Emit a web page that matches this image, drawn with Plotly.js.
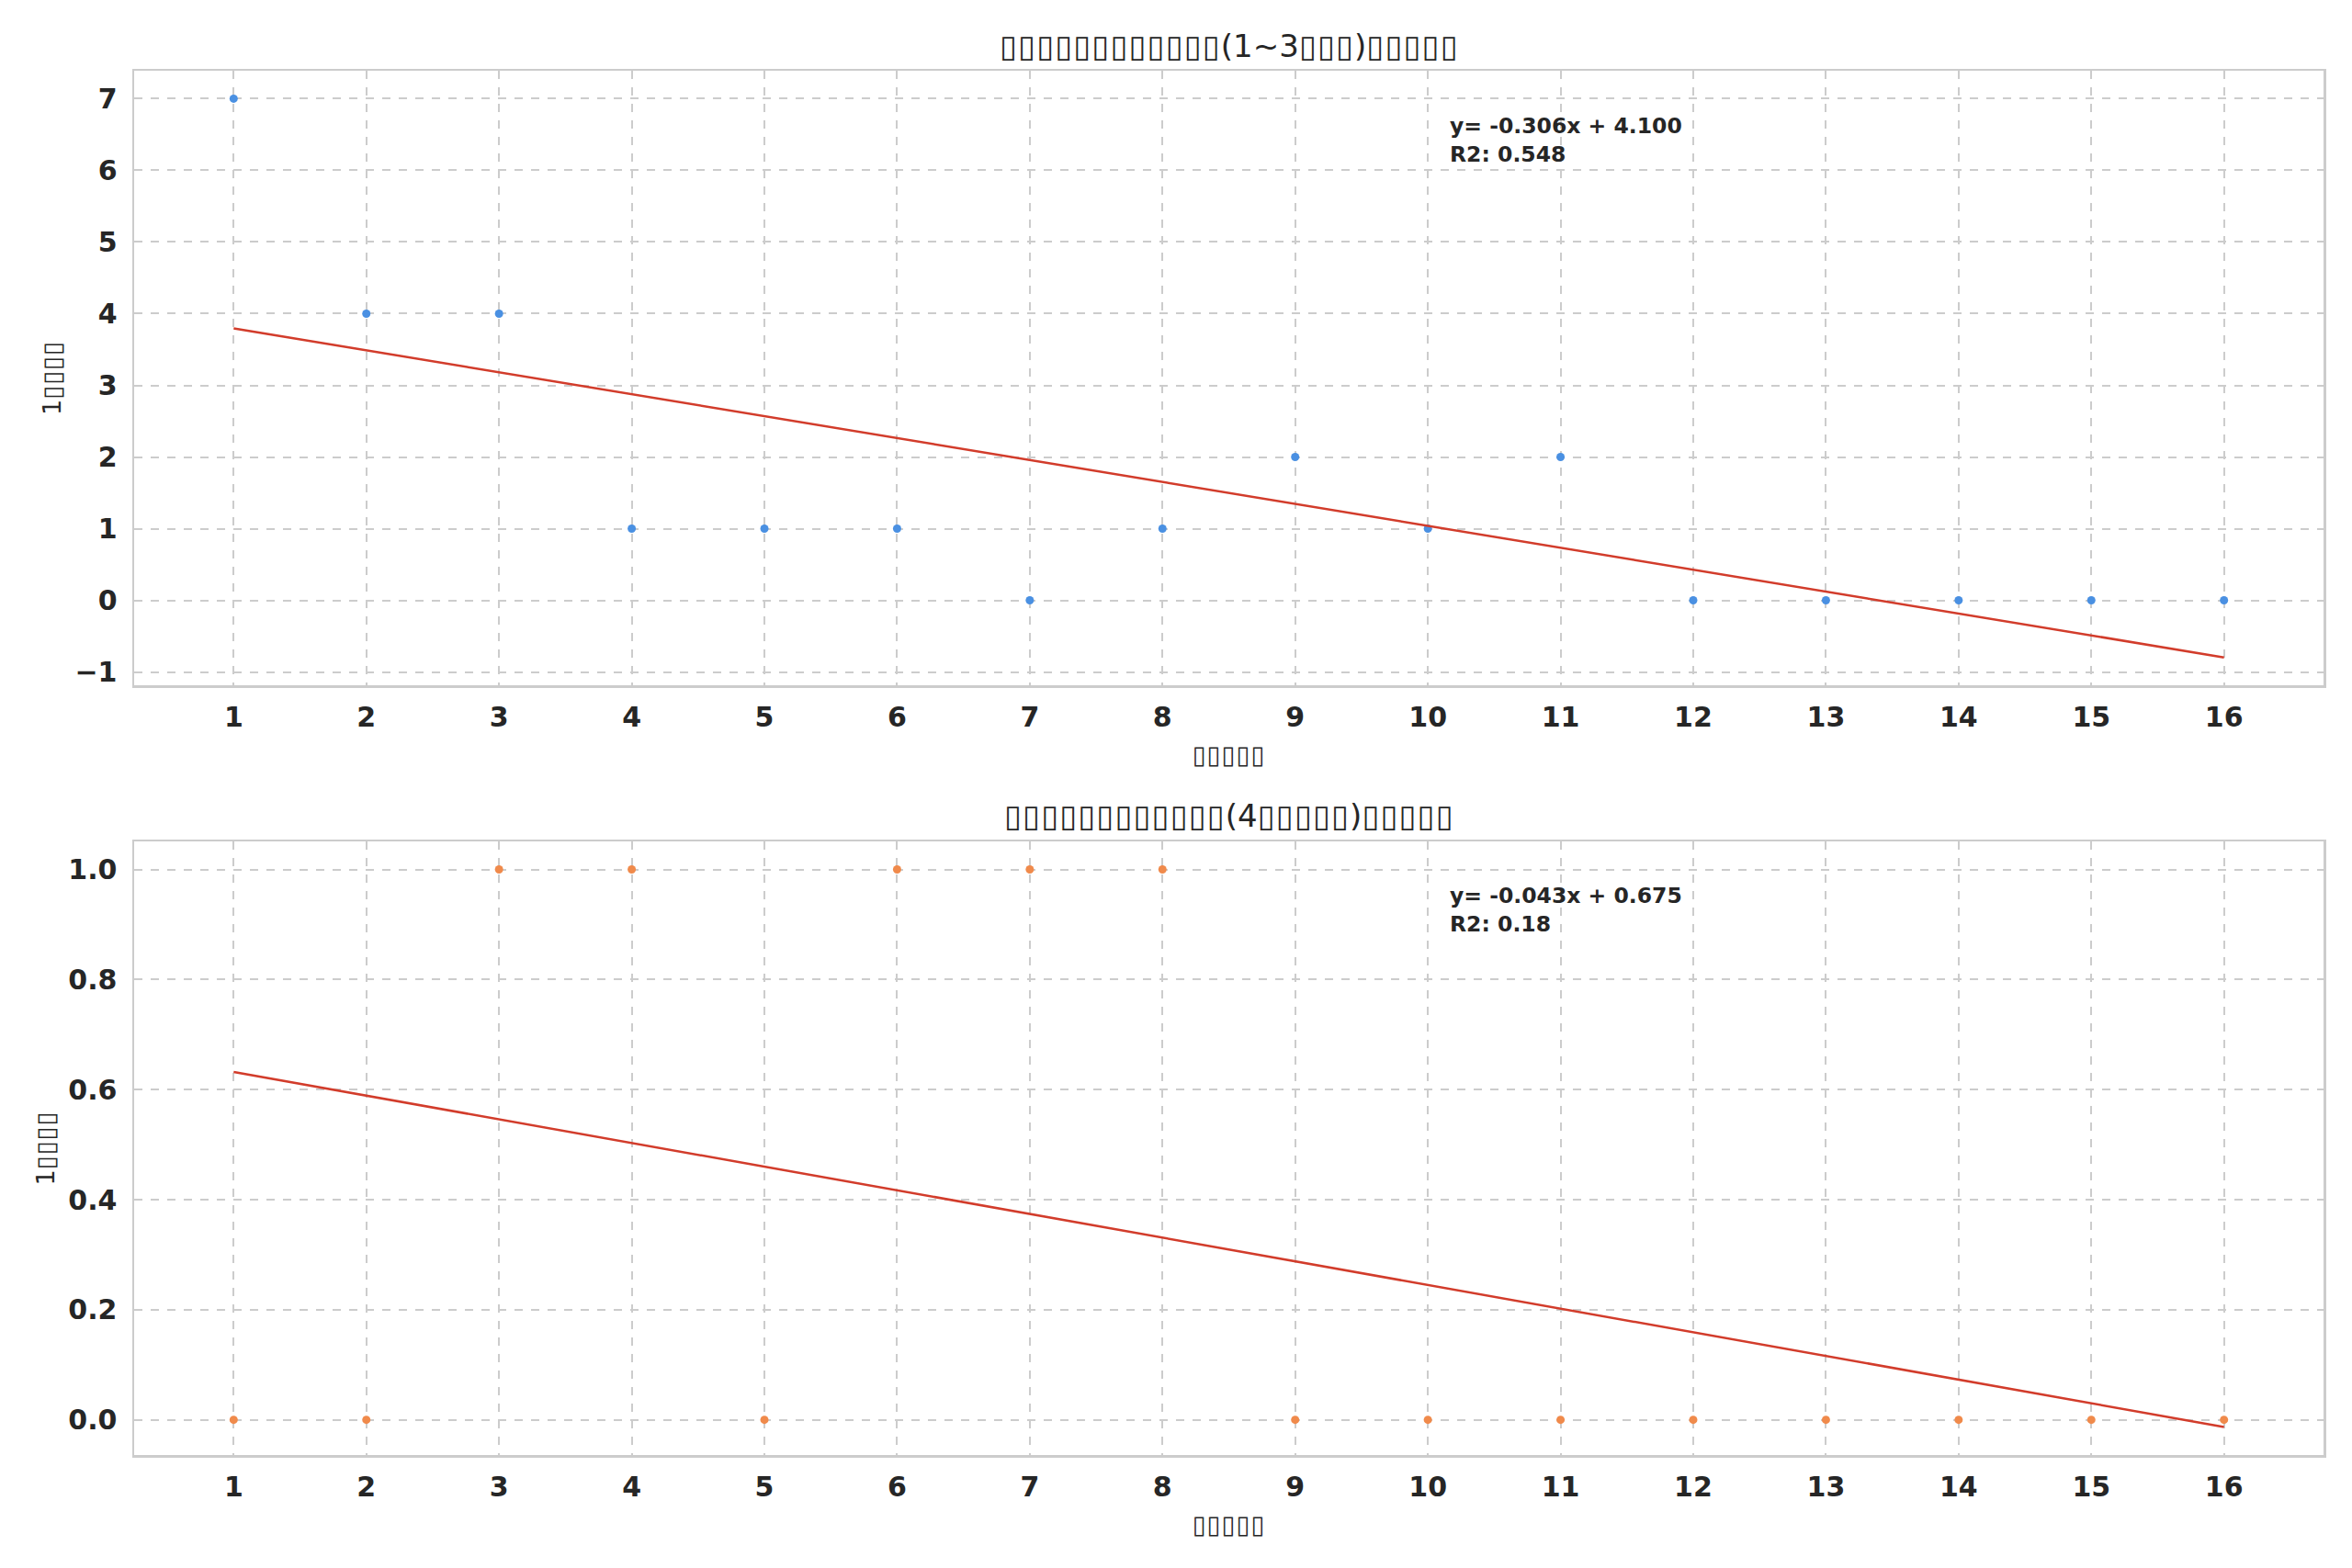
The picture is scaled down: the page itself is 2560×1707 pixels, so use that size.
<!DOCTYPE html>
<html>
<head>
<meta charset="utf-8">
<script src="https://cdn.plot.ly/plotly-3.0.1.min.js"></script>
<style>
  html, body { margin: 0; padding: 0; background: #fff; }
  #chart { width: 2560px; height: 1707px; }
</style>
</head>
<body>
<div id="chart"></div>
<script>
// x positions shared by both panels
const xValues = [1, 2, 3, 4, 5, 6, 7, 8, 9, 10, 11, 12, 13, 14, 15, 16];

// top panel: counts
const topValues = [7, 4, 4, 1, 1, 1, 0, 1, 2, 1, 2, 0, 0, 0, 0, 0];
const topTrendX = [1, 16];
const topTrendY = [3.794, -0.796];
const topEquation = "y= -0.306x + 4.100";
const topR2 = "R2: 0.548";

// bottom panel
const bottomValues = [0, 0, 1, 1, 0, 1, 1, 1, 0, 0, 0, 0, 0, 0, 0, 0];
const bottomTrendX = [1, 16];
const bottomTrendY = [0.632, -0.013];
const bottomEquation = "y= -0.043x + 0.675";
const bottomR2 = "R2: 0.18";

const yTicksTop = [-1, 0, 1, 2, 3, 4, 5, 6, 7];
const yTicksBottom = [0, 0.2, 0.4, 0.6, 0.8, 1.0];

// the source renders its CJK text as empty boxes
function boxes(n) {
  return '<span style="letter-spacing:0.04em">' + "\u25AF".repeat(n) + "</span>";
}
const topTitle = boxes(12) + "(1~3" + boxes(3) + ")" + boxes(5);
const bottomTitle = boxes(12) + "(4" + boxes(5) + ")" + boxes(5);
const xLabel = boxes(5);
const yLabel = "1" + boxes(4);

const W = 2560, H = 1707;
const M = { l: 146, r: 31, t: 77, b: 123 };
const plotH = H - M.t - M.b;
// pixel row -> paper y
const py = (p) => (H - M.b - p) / plotH;

const textColor = "#262626";
const gridColor = "#cccccc";
const blue = "#4a90e2";
const orange = "#f08a4b";
const red = "#d23c2b";

function xAxis(anchor) {
  return {
    anchor: anchor,
    range: [0.25, 16.75],
    tickvals: xValues,
    ticktext: xValues.map(String),
    tickfont: { family: "DejaVu Sans", size: 30, weight: "bold", color: textColor },
    ticklabelstandoff: 6,
    showgrid: true,
    gridcolor: gridColor,
    gridwidth: 2,
    griddash: "dash",
    zeroline: false,
    showline: true,
    mirror: true,
    linecolor: gridColor,
    linewidth: 2.5,
    title: { text: xLabel, font: { family: "DejaVu Sans", size: 27, color: textColor }, standoff: 16 }
  };
}

function yAxis(anchor, domain, range, ticks, fmt) {
  return {
    anchor: anchor,
    domain: domain,
    range: range,
    tickvals: ticks,
    tickformat: fmt,
    tickfont: { family: "DejaVu Sans", size: 30, weight: "bold", color: textColor },
    ticklabelstandoff: 10,
    showgrid: true,
    gridcolor: gridColor,
    gridwidth: 2,
    griddash: "dash",
    zeroline: false,
    showline: true,
    mirror: true,
    linecolor: gridColor,
    linewidth: 2.5,
    title: { text: yLabel, font: { family: "DejaVu Sans", size: 27, color: textColor }, standoff: 7 }
  };
}

const data = [
  {
    type: "scatter", mode: "markers", x: xValues, y: topValues,
    xaxis: "x", yaxis: "y",
    marker: { color: blue, size: 9 }
  },
  {
    type: "scatter", mode: "lines", x: topTrendX, y: topTrendY,
    xaxis: "x", yaxis: "y",
    line: { color: red, width: 2.5 }
  },
  {
    type: "scatter", mode: "markers", x: xValues, y: bottomValues,
    xaxis: "x2", yaxis: "y2",
    marker: { color: orange, size: 9 }
  },
  {
    type: "scatter", mode: "lines", x: bottomTrendX, y: bottomTrendY,
    xaxis: "x2", yaxis: "y2",
    line: { color: red, width: 2.5 }
  }
];

const layout = {
  width: W,
  height: H,
  margin: M,
  paper_bgcolor: "#ffffff",
  plot_bgcolor: "#ffffff",
  showlegend: false,
  font: { family: "DejaVu Sans", color: textColor },
  xaxis: xAxis("y"),
  yaxis: yAxis("x", [py(746), 1], [-1.185, 7.39], yTicksTop, "d"),
  xaxis2: xAxis("y2"),
  yaxis2: yAxis("x2", [0, py(916)], [-0.064, 1.051], yTicksBottom, ".1f"),
  annotations: [
    {
      text: topTitle, xref: "paper", yref: "paper", x: 0.5, y: py(50),
      xanchor: "center", yanchor: "middle", showarrow: false,
      font: { family: "DejaVu Sans", size: 34, color: textColor }
    },
    {
      text: bottomTitle, xref: "paper", yref: "paper", x: 0.5, y: py(888),
      xanchor: "center", yanchor: "middle", showarrow: false,
      font: { family: "DejaVu Sans", size: 34, color: textColor }
    },
    {
      text: topEquation + "<br>" + topR2, xref: "paper", yref: "paper",
      x: 0.6, y: py(121), xanchor: "left", yanchor: "top", align: "left",
      showarrow: false,
      font: { family: "DejaVu Sans", size: 23.5, weight: "bold", color: textColor }
    },
    {
      text: bottomEquation + "<br>" + bottomR2, xref: "paper", yref: "paper",
      x: 0.6, y: py(959), xanchor: "left", yanchor: "top", align: "left",
      showarrow: false,
      font: { family: "DejaVu Sans", size: 23.5, weight: "bold", color: textColor }
    }
  ]
};

Plotly.newPlot("chart", data, layout, { staticPlot: true });
</script>
</body>
</html>
